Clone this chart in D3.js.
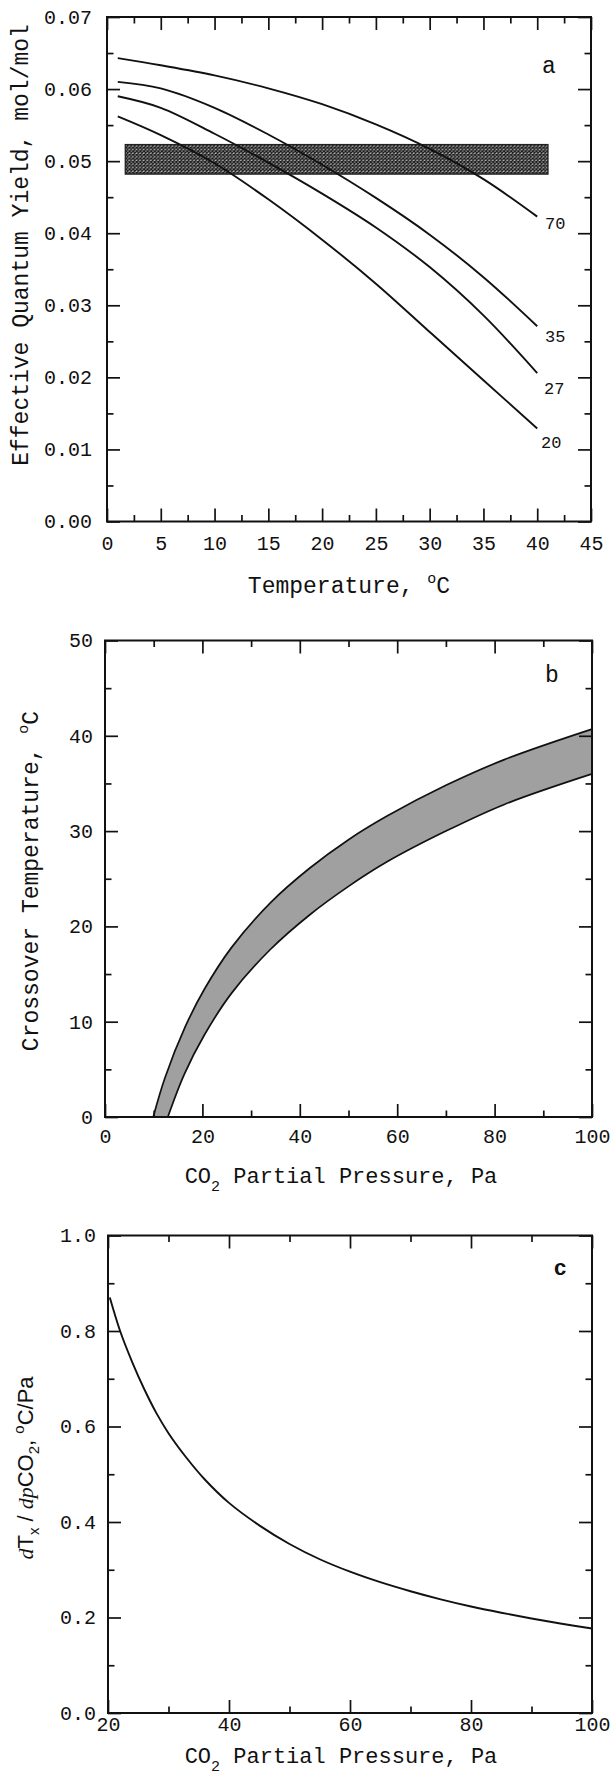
<!DOCTYPE html>
<html>
<head>
<meta charset="utf-8">
<script src="https://cdn.jsdelivr.net/npm/d3@7"></script>
<style>
  body { margin: 0; background: #fff; }
  svg text { fill: #111; }
</style>
</head>
<body>
<div id="chart"></div>
<script>
// ---- panel a : quantum yield vs temperature
const tempGrid = [1, 5, 10, 15, 20, 25, 30, 35, 40];
const yield70 = [0.0643, 0.0633, 0.0619, 0.0601, 0.0579, 0.0551, 0.0517, 0.0475, 0.0423];
const yield35 = [0.0610, 0.0601, 0.0574, 0.0537, 0.0495, 0.0449, 0.0398, 0.0339, 0.0271];
const yield27 = [0.0590, 0.0574, 0.0538, 0.0498, 0.0455, 0.0408, 0.0353, 0.0286, 0.0206];
const yield20 = [0.0562, 0.0536, 0.0497, 0.0447, 0.0391, 0.0330, 0.0263, 0.0196, 0.0129];
const curveNames = ["70", "35", "27", "20"];
const bandYield = [0.0482, 0.0523];
const bandTemp = [1.7, 41];

// ---- panel b : crossover temperature band
const pUpper = [9.9, 12.3, 16.5, 20.4, 26, 34, 42, 50, 58, 70, 82, 100];
const tUpper = [0, 4.1, 9.5, 13.4, 17.8, 22.5, 26.1, 29.1, 31.6, 34.8, 37.5, 40.7];
const pLower = [12.9, 16.3, 20.4, 26, 34, 42, 50, 58, 70, 82, 100];
const tLower = [0, 4.5, 8.6, 13.0, 17.6, 21.2, 24.2, 26.8, 30.0, 32.8, 36];

// ---- panel c : dTx/dpCO2
const pSlope = [20.3, 22, 24, 26, 28, 30, 33, 36, 40, 45, 50, 55, 60, 65, 70, 75, 80, 85, 90, 95, 100];
const slopeVals = [0.87, 0.80, 0.735, 0.678, 0.628, 0.586, 0.534, 0.489, 0.440, 0.393, 0.354, 0.322, 0.296, 0.274, 0.255, 0.238, 0.223, 0.210, 0.198, 0.187, 0.177];

const mono = "'Liberation Mono','Courier New',monospace";
const sans = "'Liberation Sans',Arial,sans-serif";

const svg = d3.select("#chart").append("svg")
  .attr("width", 610)
  .attr("height", 1781);

const defs = svg.append("defs");
const hatch = defs.append("pattern")
  .attr("id", "xhatch")
  .attr("width", 3.6).attr("height", 3.6)
  .attr("patternUnits", "userSpaceOnUse");
hatch.append("rect").attr("width", 3.6).attr("height", 3.6).attr("fill", "#c8c8c8");
hatch.append("path").attr("d", "M0,0L3.6,3.6M3.6,0L0,3.6")
  .attr("stroke", "#1a1a1a").attr("stroke-width", 1.3);

// frame + inward ticks on all four sides
function frame(x, y, o) {
  const g = svg.append("g");
  const [x0, x1] = x.range();
  const [y0, y1] = y.range(); // y0 bottom
  const style = sel => {
    sel.select(".domain").remove();
    sel.selectAll("line").attr("stroke", "#111").attr("stroke-width", 1.7);
    sel.attr("font-family", mono).attr("font-size", 20);
    sel.selectAll("text").attr("fill", "#111");
  };
  g.append("g").attr("transform", `translate(0,${y0})`)
    .call(d3.axisBottom(x).tickValues(o.xMinor).tickSize(-6.5).tickFormat("")).call(style);
  g.append("g").attr("transform", `translate(0,${y1})`)
    .call(d3.axisTop(x).tickValues(o.xMinor).tickSize(-6.5).tickFormat("")).call(style);
  g.append("g").attr("transform", `translate(${x0},0)`)
    .call(d3.axisLeft(y).tickValues(o.yMinor).tickSize(-6.5).tickFormat("")).call(style);
  g.append("g").attr("transform", `translate(${x1},0)`)
    .call(d3.axisRight(y).tickValues(o.yMinor).tickSize(-6.5).tickFormat("")).call(style);

  g.append("g").attr("transform", `translate(0,${y0})`)
    .call(d3.axisBottom(x).tickValues(o.xMajor).tickSize(-13).tickPadding(o.xPad).tickFormat(o.xFmt)).call(style);
  g.append("g").attr("transform", `translate(0,${y1})`)
    .call(d3.axisTop(x).tickValues(o.xMajor).tickSize(-13).tickFormat("")).call(style);
  g.append("g").attr("transform", `translate(${x0},0)`)
    .call(d3.axisLeft(y).tickValues(o.yMajor).tickSize(-13).tickPadding(o.yPad).tickFormat(o.yFmt)).call(style);
  g.append("g").attr("transform", `translate(${x1},0)`)
    .call(d3.axisRight(y).tickValues(o.yMajor).tickSize(-13).tickFormat("")).call(style);

  g.append("rect")
    .attr("x", x0).attr("y", y1)
    .attr("width", x1 - x0).attr("height", y0 - y1)
    .attr("fill", "none").attr("stroke", "#111").attr("stroke-width", 2);
}

const range = (a, b, s) => d3.range(a, b + s / 2, s);

// ================= PANEL A
const xA = d3.scaleLinear().domain([0, 45]).range([107, 591]);
const yA = d3.scaleLinear().domain([0, 0.07]).range([521.5, 17]);

svg.append("rect")
  .attr("x", xA(bandTemp[0])).attr("y", yA(bandYield[1]))
  .attr("width", xA(bandTemp[1]) - xA(bandTemp[0]))
  .attr("height", yA(bandYield[0]) - yA(bandYield[1]))
  .attr("fill", "url(#xhatch)")
  .attr("stroke", "#222").attr("stroke-width", 1.3);

const lineA = d3.line().x(d => xA(d[0])).y(d => yA(d[1])).curve(d3.curveCatmullRom.alpha(0.5));
const seriesA = [yield70, yield35, yield27, yield20];
const labelShift = [[18, 8], [18, 11], [17, 16], [14, 15]];
seriesA.forEach((vals, i) => {
  const pts = tempGrid.map((t, j) => [t, vals[j]]);
  svg.append("path").datum(pts)
    .attr("d", lineA)
    .attr("fill", "none").attr("stroke", "#111").attr("stroke-width", 1.9);
  const last = pts[pts.length - 1];
  svg.append("text")
    .attr("x", xA(last[0]) + labelShift[i][0])
    .attr("y", yA(last[1]) + labelShift[i][1])
    .attr("text-anchor", "middle").attr("dominant-baseline", "central")
    .attr("font-family", mono).attr("font-size", 17)
    .text(curveNames[i]);
});

frame(xA, yA, {
  xMajor: range(0, 45, 5), xMinor: range(2.5, 42.5, 5),
  yMajor: range(0, 0.07, 0.01), yMinor: range(0.005, 0.065, 0.01),
  xFmt: d3.format("d"), yFmt: d3.format(".2f"), xPad: 14, yPad: 15
});

svg.append("text").attr("x", 549).attr("y", 67)
  .attr("text-anchor", "middle").attr("dominant-baseline", "central")
  .attr("font-family", mono).attr("font-size", 23).text("a");

const tA = svg.append("text").attr("x", 349).attr("y", 593)
  .attr("text-anchor", "middle").attr("font-family", mono).attr("font-size", 23);
tA.append("tspan").text("Temperature,  ");
tA.append("tspan").attr("font-size", 15).attr("dy", -10).text("o");
tA.append("tspan").attr("dy", 10).text("C");

svg.append("text")
  .attr("transform", "translate(28,245) rotate(-90)")
  .attr("text-anchor", "middle")
  .attr("font-family", mono).attr("font-size", 23)
  .text("Effective Quantum Yield, mol/mol");

// ================= PANEL B
const xB = d3.scaleLinear().domain([0, 100]).range([105, 592]);
const yB = d3.scaleLinear().domain([0, 50]).range([1117, 640.5]);

const up = pUpper.map((p, i) => [p, tUpper[i]]);
const lo = pLower.map((p, i) => [p, tLower[i]]);
const lineB = d3.line().x(d => xB(d[0])).y(d => yB(d[1])).curve(d3.curveCatmullRom.alpha(0.5));
// band polygon: upper edge forward, lower edge back
const upPath = lineB(up);
const loRev = lineB(lo.slice().reverse()).replace(/^M/, "L");
svg.append("path")
  .attr("d", upPath + loRev + "Z")
  .attr("fill", "#a0a0a0");
[up, lo].forEach(pts => {
  svg.append("path").datum(pts).attr("d", lineB)
    .attr("fill", "none").attr("stroke", "#111").attr("stroke-width", 1.7);
});

frame(xB, yB, {
  xMajor: range(0, 100, 20), xMinor: range(10, 90, 20),
  yMajor: range(0, 50, 10), yMinor: range(5, 45, 10),
  xFmt: d3.format("d"), yFmt: d3.format("d"), xPad: 12, yPad: 12
});

svg.append("text").attr("x", 552).attr("y", 676)
  .attr("text-anchor", "middle").attr("dominant-baseline", "central")
  .attr("font-family", mono).attr("font-size", 23).text("b");

function co2Title(yBase) {
  const t = svg.append("text").attr("x", 341).attr("y", yBase)
    .attr("text-anchor", "middle").attr("font-family", mono).attr("font-size", 22);
  t.append("tspan").text("CO");
  t.append("tspan").attr("font-size", 15).attr("dy", 8).text("2");
  t.append("tspan").attr("dy", -8).text(" Partial Pressure, Pa");
}
co2Title(1183);

const tB = svg.append("text")
  .attr("transform", "translate(38,881) rotate(-90)")
  .attr("text-anchor", "middle")
  .attr("font-family", mono).attr("font-size", 23);
tB.append("tspan").text("Crossover Temperature,  ");
tB.append("tspan").attr("font-size", 15).attr("dy", -10).text("o");
tB.append("tspan").attr("dy", 10).text("C");

// ================= PANEL C
const xC = d3.scaleLinear().domain([20, 100]).range([108, 592]);
const yC = d3.scaleLinear().domain([0, 1]).range([1713, 1235.5]);

const lineC = d3.line().x(d => xC(d[0])).y(d => yC(d[1])).curve(d3.curveCatmullRom.alpha(0.5));
svg.append("path").datum(pSlope.map((p, i) => [p, slopeVals[i]]))
  .attr("d", lineC)
  .attr("fill", "none").attr("stroke", "#111").attr("stroke-width", 1.9);

frame(xC, yC, {
  xMajor: range(20, 100, 20), xMinor: range(30, 90, 20),
  yMajor: range(0, 1, 0.2), yMinor: range(0.1, 0.9, 0.2),
  xFmt: d3.format("d"), yFmt: d3.format(".1f"), xPad: 4, yPad: 12
});

svg.append("text").attr("x", 560).attr("y", 1267)
  .attr("text-anchor", "middle").attr("dominant-baseline", "central")
  .attr("font-family", sans).attr("font-weight", "bold").attr("font-size", 22).text("c");

co2Title(1763);

const tC = svg.append("text")
  .attr("transform", "translate(33,1468) rotate(-90)")
  .attr("text-anchor", "middle")
  .attr("font-family", sans).attr("font-size", 22);
tC.append("tspan").attr("font-family", "'Liberation Serif',serif").attr("font-style", "italic").text("d");
tC.append("tspan").text("T");
tC.append("tspan").attr("font-size", 15).attr("dy", 6).text("x");
tC.append("tspan").attr("dy", -6).text(" / ");
tC.append("tspan").attr("font-family", "'Liberation Serif',serif").attr("font-style", "italic").text("dp");
tC.append("tspan").text("CO");
tC.append("tspan").attr("font-size", 15).attr("dy", 6).text("2");
tC.append("tspan").attr("dy", -6).text(", ");
tC.append("tspan").attr("font-size", 15).attr("dy", -9).text("o");
tC.append("tspan").attr("dy", 9).text("C/Pa");
</script>
</body>
</html>
